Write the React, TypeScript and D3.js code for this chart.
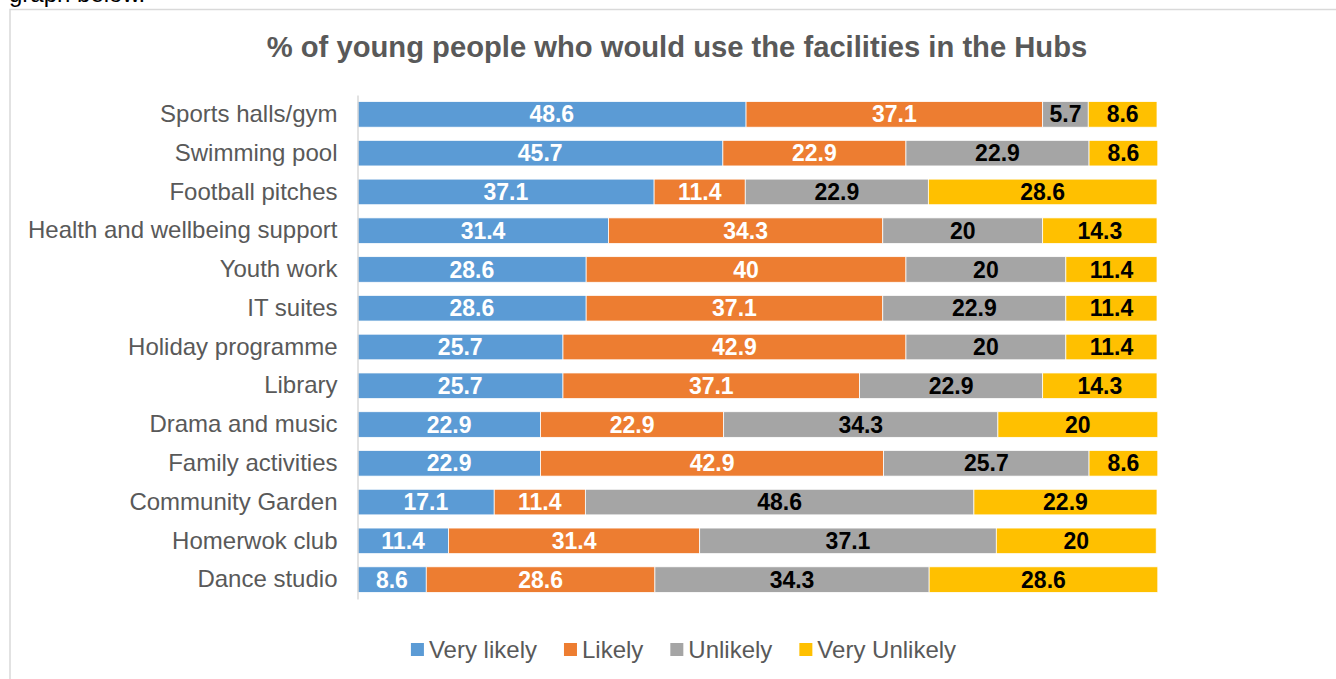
import React, { useEffect, useRef } from "react";
import * as d3 from "d3";

const categories = [
  "Sports halls/gym",
  "Swimming pool",
  "Football pitches",
  "Health and wellbeing support",
  "Youth work",
  "IT suites",
  "Holiday programme",
  "Library",
  "Drama and music",
  "Family activities",
  "Community Garden",
  "Homerwok club",
  "Dance studio",
];
const veryLikely = [48.6, 45.7, 37.1, 31.4, 28.6, 28.6, 25.7, 25.7, 22.9, 22.9, 17.1, 11.4, 8.6];
const likely = [37.1, 22.9, 11.4, 34.3, 40, 37.1, 42.9, 37.1, 22.9, 42.9, 11.4, 31.4, 28.6];
const unlikely = [5.7, 22.9, 22.9, 20, 20, 22.9, 20, 22.9, 34.3, 25.7, 48.6, 37.1, 34.3];
const veryUnlikely = [8.6, 8.6, 28.6, 14.3, 11.4, 11.4, 11.4, 14.3, 20, 8.6, 22.9, 20, 28.6];
const seriesNames = ["Very likely", "Likely", "Unlikely", "Very Unlikely"];
const seriesColors = ["#5B9BD5", "#ED7D31", "#A5A5A5", "#FFC000"];
const labelColors = ["#FFFFFF", "#FFFFFF", "#000000", "#000000"];
const title = "% of young people who would use the facilities in the Hubs";

const W = 1336;
const H = 679;
const FONT = "Liberation Sans, Arial, sans-serif";

export default function App() {
  const ref = useRef<SVGSVGElement>(null);
  useEffect(() => {
    const svg = d3.select(ref.current);
    svg.selectAll("*").remove();

    // page text above chart (partly scrolled out of view, as in the reference)
    svg.append("text").attr("x", 9).attr("y", 2).attr("font-family", FONT)
      .attr("font-size", 24).attr("fill", "#000").text("graph below.");

    // chart border
    svg.append("rect").attr("x", 10).attr("y", 9.5).attr("width", 1400).attr("height", 800)
      .attr("fill", "#fff").attr("stroke", "#D9D9D9").attr("stroke-width", 1.5);

    // title
    svg.append("text").attr("x", 677).attr("y", 57).attr("text-anchor", "middle")
      .attr("font-family", FONT).attr("font-weight", "bold").attr("font-size", 29.2)
      .attr("fill", "#595959").text(title);

    const x = d3.scaleLinear().domain([0, 100]).range([357.5, 1157]);
    const y = d3.scaleBand<string>().domain(categories).range([95, 599])
      .paddingInner(0.34).paddingOuter(0.17);

    const rows = categories.map((c, i) => ({
      cat: c,
      vals: [veryLikely[i], likely[i], unlikely[i], veryUnlikely[i]],
    }));
    const stack = d3.stack<any>().keys(["0", "1", "2", "3"])
      .value((d: any, k: string) => d.vals[+k]);
    const stacked = stack(rows as any);

    stacked.forEach((layer, si) => {
      const g = svg.append("g");
      layer.forEach((seg: any) => {
        const cat = seg.data.cat;
        const x0 = x(seg[0]);
        const x1 = x(seg[1]);
        g.append("rect").attr("x", x0).attr("y", y(cat)!).attr("width", x1 - x0)
          .attr("height", y.bandwidth()).attr("fill", seriesColors[si])
          .attr("stroke", "#fff").attr("stroke-width", 0.75);
        g.append("text").attr("x", (x0 + x1) / 2).attr("y", y(cat)! + y.bandwidth() / 2)
          .attr("dy", "0.35em").attr("text-anchor", "middle").attr("font-family", FONT)
          .attr("font-weight", "bold").attr("font-size", 23).attr("fill", labelColors[si])
          .text(String(seg.data.vals[si]));
      });
    });

    // axis
    const axis = d3.axisLeft(y).tickSize(0).tickPadding(20);
    const ag = svg.append("g").attr("transform", "translate(357.5,0)").call(axis);
    ag.select(".domain").attr("stroke", "#D9D9D9").attr("stroke-width", 1.5);
    ag.selectAll("text").attr("font-family", FONT).attr("font-size", 24).attr("fill", "#595959");

    // legend
    const lg = svg.append("g");
    let cx = 0;
    seriesNames.forEach((n, i) => {
      const t = lg.append("text").attr("x", cx + 18).attr("y", 658).attr("font-family", FONT)
        .attr("font-size", 24).attr("fill", "#595959").text(n);
      lg.append("rect").attr("x", cx).attr("y", 643).attr("width", 13).attr("height", 13)
        .attr("fill", seriesColors[i]);
      const w = (t.node() as SVGTextElement).getComputedTextLength();
      cx += 18 + w + 27;
    });
    const total = cx - 27;
    lg.attr("transform", `translate(${683.5 - total / 2},0)`);
  }, []);
  return (
    <svg ref={ref} width={W} height={H}
      style={{ position: "absolute", left: 0, top: 0, background: "#fff" }} />
  );
}
